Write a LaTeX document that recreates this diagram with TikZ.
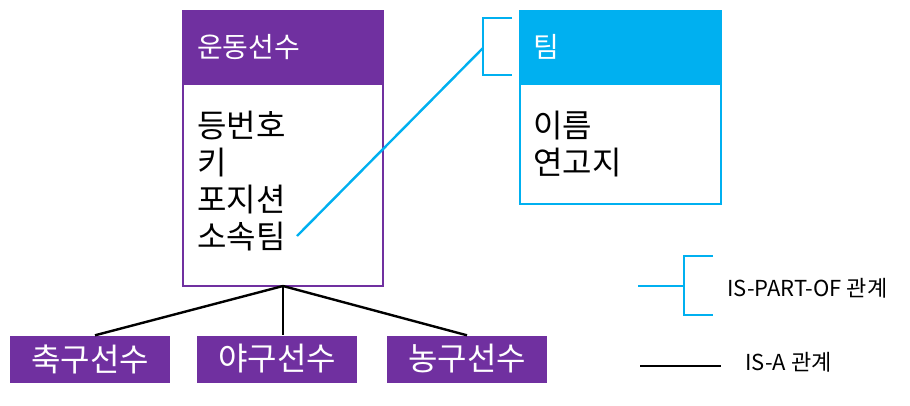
\documentclass[tikz,border=0pt]{standalone}
\usepackage{fontspec}
\setmainfont{Noto Sans CJK KR}
\definecolor{pur}{HTML}{7030A0}
\definecolor{cy}{HTML}{00B0F0}
\begin{document}
\begin{tikzpicture}[x=1pt,y=-1pt,
  hdr/.style={font=\fontsize{28}{32}\selectfont,text=white,anchor=west,inner sep=0pt},
  body/.style={font=\fontsize{32}{37}\selectfont,anchor=north west,align=left,inner sep=0pt},
  sub/.style={fill=pur,text=white,minimum width=160pt,minimum height=47pt,inner sep=0pt,font=\fontsize{32}{36}\selectfont},
  leg/.style={font=\fontsize{22}{26}\selectfont,anchor=west,inner sep=0pt},
  cl/.style={cy,line width=2.4pt},
  bl/.style={black,line width=2.4pt}]
\useasboundingbox (0,0) rectangle (910,405);
% athlete
\fill[pur] (182,10) rectangle (384,85);
\draw[pur,line width=2.8pt] (183,11) rectangle (383,286);
\node[hdr] (ah) at (197,47) {운동선수};
\node[body] (ab) at (197,111) {등번호\\키\\포지션\\소속팀};
\coordinate (atop) at (283,286);
% team
\fill[cy] (519,10) rectangle (722,85);
\draw[cy,line width=2.8pt] (520,11) rectangle (721,204);
\node[hdr] (th) at (533,47) {팀};
\node[body] (tb) at (533,111) {이름\\연고지};
% bracket
\coordinate (b1) at (512,18);
\coordinate (b2) at (483,18);
\coordinate (b3) at (483,75);
\coordinate (b4) at (512,75);
\coordinate (bm) at (483,48);
\coordinate (st) at (297,236);
\draw[cl] (b1) -- (b2) -- (b3) -- (b4);
\draw[cl] (st) -- (bm);
% subtypes
\node[sub] (s1) at (90,359) {축구선수};
\node[sub] (s2) at (277,359) {야구선수};
\node[sub] (s3) at (467,359) {농구선수};
\draw[bl] (atop) -- ([xshift=5pt]s1.north);
\draw[bl] (atop) -- ([xshift=6pt]s2.north);
\draw[bl] (atop) -- (s3.north);
% legend
\coordinate (l1) at (638,286);
\coordinate (l2) at (684,286);
\draw[cl] (713,256) -- (684,256) -- (684,315) -- (713,315);
\draw[cl] (l1) -- (l2);
\node[leg] (lt1) at (727,288) {IS-PART-OF 관계};
\coordinate (k1) at (640,366);
\coordinate (k2) at (721,366);
\draw[bl] (k1) -- (k2);
\node[leg] (lt2) at (745,362) {IS-A 관계};
\end{tikzpicture}
\end{document}
